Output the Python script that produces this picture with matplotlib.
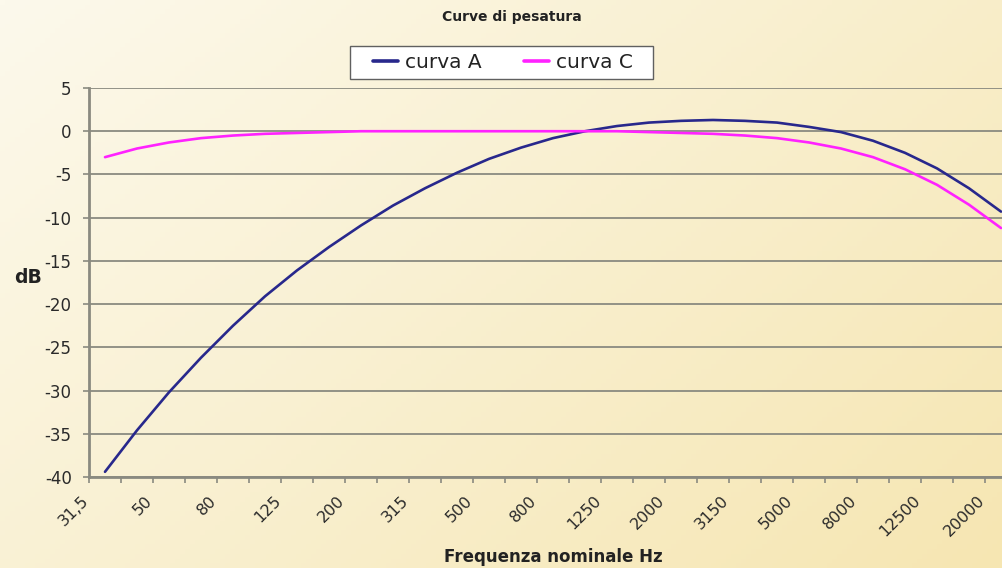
import numpy as np
import matplotlib
matplotlib.use("Agg")
import matplotlib.pyplot as plt
from matplotlib.patches import Rectangle
from matplotlib.transforms import ScaledTranslation

# third-octave band centres (Hz), as labelled on the chart
freqs = ["31,5", "40", "50", "63", "80", "100", "125", "160", "200", "250",
         "315", "400", "500", "630", "800", "1000", "1250", "1600", "2000", "2500",
         "3150", "4000", "5000", "6300", "8000", "10000", "12500", "16000", "20000"]

# weighting values in dB
curva_a = [-39.4, -34.6, -30.2, -26.2, -22.5, -19.1, -16.1, -13.4, -10.9, -8.6,
           -6.6, -4.8, -3.2, -1.9, -0.8, 0.0, 0.6, 1.0, 1.2, 1.3,
           1.2, 1.0, 0.5, -0.1, -1.1, -2.5, -4.3, -6.6, -9.3]
curva_c = [-3.0, -2.0, -1.3, -0.8, -0.5, -0.3, -0.2, -0.1, 0.0, 0.0,
           0.0, 0.0, 0.0, 0.0, 0.0, 0.0, 0.0, -0.1, -0.2, -0.3,
           -0.5, -0.8, -1.3, -2.0, -3.0, -4.4, -6.2, -8.5, -11.2]

y_ticks = [5, 0, -5, -10, -15, -20, -25, -30, -35, -40]

plt.rcParams['font.family'] = ['DejaVu Sans']

W, H, DPI = 1002, 568, 100
fig = plt.figure(figsize=(W / DPI, H / DPI), dpi=DPI)

# diagonal cream-to-yellow background
bg = fig.add_axes([0, 0, 1, 1], zorder=-10)
gx, gy = np.meshgrid(np.linspace(0, 1, 200), np.linspace(0, 1, 120))
t = (gx * 0.6 + gy * 0.4)
c0 = np.array([252, 249, 236]) / 255
c1 = np.array([246, 230, 178]) / 255
img = c0[None, None, :] * (1 - t[..., None]) + c1[None, None, :] * t[..., None]
bg.imshow(img, aspect='auto', extent=[0, 1, 0, 1], origin='upper')
bg.axis('off')

# plot area runs a little past the right edge, as in the reference
left, right, top, bottom = 89, 1017, 88, 477
ax = fig.add_axes([left / W, 1 - bottom / H, (right - left) / W, (bottom - top) / H])
ax.set_facecolor('none')

x = np.arange(len(freqs))
ax.plot(x, curva_a, color='#28288c', lw=1.9, label='curva A', solid_capstyle='round')
ax.plot(x, curva_c, color='#ff22ff', lw=1.9, label='curva C', solid_capstyle='round')

ax.set_xlim(-0.5, len(freqs) - 0.5)
ax.set_ylim(-40, 5)
ax.set_yticks(y_ticks)
ax.set_yticklabels([str(v) for v in y_ticks], fontsize=12, color='#2a2a2a')
ax.yaxis.grid(True, color='#8a8a80', lw=1.3)
ax.set_axisbelow(True)

ax.set_xticks(x[::2])
ax.set_xticklabels(freqs[::2], rotation=45, ha='right', va='top',
                   rotation_mode='anchor', fontsize=11.5, color='#2a2a2a')
ax.set_xticks(np.arange(-0.5, len(freqs)), minor=True)
ax.tick_params(axis='x', which='major', length=0, pad=11.5)
ax.tick_params(axis='x', which='minor', length=4, width=1.2, color='#8a8a80', direction='out')
ax.tick_params(axis='y', length=4, width=1.2, color='#8a8a80', pad=8.5)
offset = ScaledTranslation(-24 / DPI, 0, fig.dpi_scale_trans)
for lab in ax.get_xticklabels():
    lab.set_transform(lab.get_transform() + offset)

for side in ['top', 'right']:
    ax.spines[side].set_visible(False)
for side in ['left', 'bottom']:
    ax.spines[side].set_color('#8a8a80')
    ax.spines[side].set_linewidth(2)

fig.text(512 / W, 1 - 17 / H, 'Curve di pesatura', ha='center', va='center',
         fontsize=10, fontweight='bold', color='#222222')
fig.text(28 / W, 1 - 277 / H, 'dB', ha='center', va='center',
         fontsize=13.5, fontweight='bold', color='#222222')
fig.text(553 / W, 1 - 557 / H, 'Frequenza nominale Hz', ha='center', va='center',
         fontsize=12, fontweight='bold', color='#222222')

# legend: white box (behind the axes layer) with two entries side by side
fig.patches.append(Rectangle((350 / W, 1 - 79 / H), 303 / W, 33 / H,
                             transform=fig.transFigure, facecolor='white',
                             edgecolor='#606060', lw=1.0, zorder=-5))
leg = ax.legend(loc='center', bbox_to_anchor=(503 / W, 1 - 62.5 / H),
                bbox_transform=fig.transFigure, ncol=2, fontsize=14.5,
                frameon=False, handlelength=1.24, handletextpad=0.35,
                columnspacing=2.1, borderpad=0.0)
for line in leg.get_lines():
    line.set_linewidth(2.6)
for txt in leg.get_texts():
    txt.set_color('#222222')

fig.savefig('out.png', dpi=DPI)
